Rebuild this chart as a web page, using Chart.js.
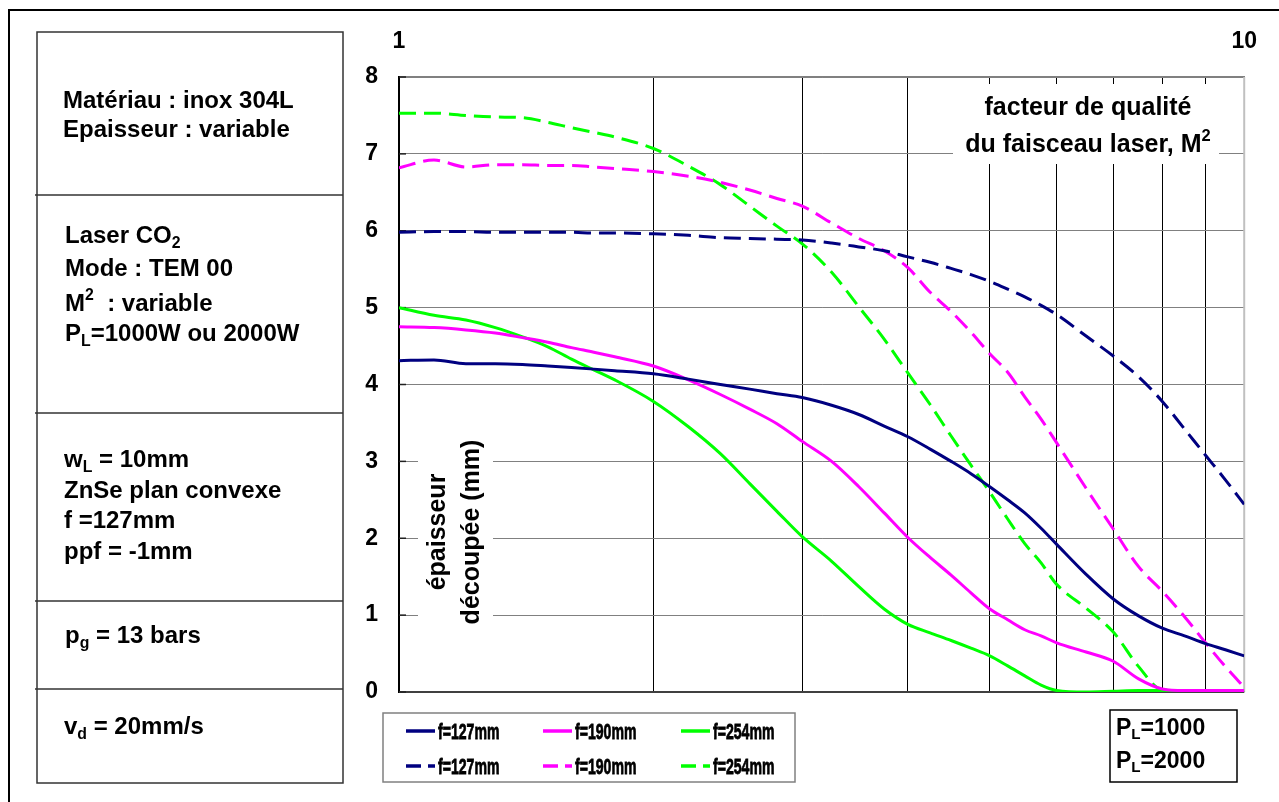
<!DOCTYPE html>
<html>
<head>
<meta charset="utf-8">
<script src="https://cdn.jsdelivr.net/npm/chart.js@4"></script>
<style>
  body { margin: 0; background: #fff; }
  canvas { display: block; }
</style>
</head>
<body>
<canvas id="chart" width="1279" height="802"></canvas>
<script>
// facteur de qualite M2 (axe log)
const m2 = [1, 1.1, 1.2, 1.3, 1.4, 1.5, 1.6, 1.7, 1.8, 2, 2.2, 2.4, 2.6, 2.8, 3, 3.25, 3.5, 3.75, 4, 4.25, 4.5, 4.75, 5, 5.25, 5.5, 5.75, 6, 6.5, 7, 7.5, 8, 8.5, 9, 9.5, 10];
const m2Grid = [1, 2, 3, 4, 5, 6, 7, 8, 9, 10];
const m2Labels = [1, 10];
const epTicks = [0, 1, 2, 3, 4, 5, 6, 7, 8];

// epaisseur decoupee (mm), PL = 1000 W
const f127_1000 = [4.31, 4.32, 4.27, 4.27, 4.26, 4.24, 4.22, 4.20, 4.18, 4.14, 4.07, 4.00, 3.94, 3.88, 3.83, 3.73, 3.61, 3.46, 3.32, 3.16, 3.00, 2.84, 2.67, 2.50, 2.33, 2.13, 1.92, 1.53, 1.21, 0.99, 0.83, 0.73, 0.63, 0.55, 0.47];
const f190_1000 = [4.75, 4.74, 4.71, 4.67, 4.61, 4.55, 4.48, 4.42, 4.36, 4.24, 4.06, 3.87, 3.68, 3.49, 3.26, 3.00, 2.67, 2.33, 2.01, 1.75, 1.52, 1.29, 1.08, 0.94, 0.81, 0.73, 0.64, 0.52, 0.40, 0.17, 0.04, 0.02, 0.02, 0.02, 0.02];
const f254_1000 = [5.00, 4.90, 4.84, 4.74, 4.62, 4.49, 4.33, 4.19, 4.06, 3.78, 3.45, 3.10, 2.71, 2.35, 2.02, 1.70, 1.37, 1.08, 0.88, 0.77, 0.67, 0.57, 0.47, 0.34, 0.21, 0.09, 0.02, 0.00, 0.01, 0.02, 0.02, 0.02, 0.02, 0.02, 0.02];
// PL = 2000 W
const f127_2000 = [5.98, 5.99, 5.99, 5.98, 5.98, 5.98, 5.98, 5.97, 5.97, 5.96, 5.94, 5.91, 5.90, 5.89, 5.88, 5.84, 5.79, 5.74, 5.66, 5.59, 5.51, 5.43, 5.34, 5.24, 5.14, 5.03, 4.91, 4.63, 4.37, 4.10, 3.78, 3.42, 3.08, 2.76, 2.44];
const f190_2000 = [6.82, 6.92, 6.83, 6.86, 6.86, 6.85, 6.85, 6.83, 6.81, 6.77, 6.71, 6.63, 6.53, 6.42, 6.32, 6.10, 5.90, 5.74, 5.52, 5.20, 4.95, 4.68, 4.40, 4.16, 3.84, 3.55, 3.24, 2.65, 2.12, 1.63, 1.31, 0.98, 0.64, 0.33, 0.06];
const f254_2000 = [7.53, 7.53, 7.50, 7.48, 7.47, 7.41, 7.34, 7.28, 7.22, 7.07, 6.84, 6.60, 6.32, 6.06, 5.83, 5.46, 5.01, 4.59, 4.15, 3.74, 3.33, 2.95, 2.60, 2.25, 1.93, 1.68, 1.40, 1.09, 0.78, 0.33, 0.03, 0.02, 0.02, 0.02, 0.02];

const seriesValues = [f127_1000, f190_1000, f254_1000, f127_2000, f190_2000, f254_2000];
const seriesLabels = ["f=127mm", "f=190mm", "f=254mm", "f=127mm", "f=190mm", "f=254mm"];
const powerLabels = ["P_L=1000", "P_L=2000"];

const panelBlocks = [
  ["Matériau : inox 304L", "Epaisseur : variable"],
  ["Laser CO_2", "Mode : TEM 00", "M^2  : variable", "P_L=1000W ou 2000W"],
  ["w_L = 10mm", "ZnSe plan convexe", "f =127mm", "ppf = -1mm"],
  ["p_g = 13 bars"],
  ["v_d = 20mm/s"]
];
const xTitle = ["facteur de qualité", "du faisceau laser, M^2"];
const yTitle = ["épaisseur", "découpée (mm)"];

const FONT = '"Liberation Sans", Arial, sans-serif';
const colors = ["#000080", "#ff00ff", "#00ff00"];

// texte avec indices (_x) et exposants (^x)
function splitRich(str) {
  const out = [];
  let buf = "";
  for (let i = 0; i < str.length; i++) {
    const c = str[i];
    if ((c === "_" || c === "^") && i + 1 < str.length) {
      if (buf) { out.push({ t: buf }); buf = ""; }
      out.push({ t: str[i + 1], s: c === "_" ? "sub" : "sup" });
      i++;
    } else {
      buf += c;
    }
  }
  if (buf) out.push({ t: buf });
  return out;
}

function drawRich(ctx, str, x, y, size, align) {
  const parts = splitRich(str);
  let w = 0;
  parts.forEach(p => {
    ctx.font = "bold " + (p.s ? size * 0.66 : size) + "px " + FONT;
    p.w = ctx.measureText(p.t).width;
    w += p.w;
  });
  let cx = align === "center" ? x - w / 2 : x;
  ctx.textAlign = "left";
  ctx.textBaseline = "alphabetic";
  parts.forEach(p => {
    ctx.font = "bold " + (p.s ? size * 0.66 : size) + "px " + FONT;
    let dy = 0;
    if (p.s === "sub") dy = size * 0.19;
    if (p.s === "sup") dy = -size * 0.45;
    ctx.fillText(p.t, cx, y + dy);
    cx += p.w;
  });
}

const decor = {
  id: "decor",
  beforeDraw(chart) {
    const ctx = chart.ctx;
    ctx.save();
    ctx.fillStyle = "#fff";
    ctx.fillRect(0, 0, chart.width, chart.height);
    ctx.strokeStyle = "#000";
    ctx.lineWidth = 2;
    ctx.strokeRect(9, 10, 1300, 820);
    ctx.restore();
  },
  beforeDatasetsDraw(chart) {
    const ctx = chart.ctx;
    const a = chart.chartArea;
    const ys = chart.scales.y;
    ctx.save();
    // bords du trace et petites graduations internes
    ctx.strokeStyle = "#c0c0c0";
    ctx.lineWidth = 2;
    ctx.beginPath();
    ctx.moveTo(a.right, a.top);
    ctx.lineTo(a.right, a.bottom);
    ctx.stroke();
    ctx.strokeStyle = "#404040";
    ctx.beginPath();
    ctx.moveTo(a.left, a.bottom);
    ctx.lineTo(a.right, a.bottom);
    ctx.stroke();
    ctx.strokeStyle = "#202020";
    ctx.lineWidth = 1.5;
    epTicks.forEach(v => {
      const y = ys.getPixelForValue(v);
      ctx.beginPath();
      ctx.moveTo(a.left, y);
      ctx.lineTo(a.left + 7, y);
      ctx.stroke();
    });
    // titres sur fond blanc
    ctx.fillStyle = "#fff";
    ctx.fillRect(953, 84, 266, 80);
    ctx.fillRect(418, 437, 75, 190);
    ctx.fillStyle = "#000";
    drawRich(ctx, xTitle[0], 1088, 115, 25, "center");
    drawRich(ctx, xTitle[1], 1088, 152, 25, "center");
    ctx.translate(455, 532);
    ctx.rotate(-Math.PI / 2);
    ctx.font = "bold 25px " + FONT;
    ctx.textAlign = "center";
    ctx.textBaseline = "middle";
    ctx.fillText(yTitle[0], 0, -17);
    ctx.fillText(yTitle[1], 0, 17);
    ctx.restore();
  },
  afterDraw(chart) {
    const ctx = chart.ctx;
    ctx.save();
    // cadre de gauche
    ctx.strokeStyle = "#333";
    ctx.lineWidth = 1.5;
    ctx.strokeRect(37, 32, 306, 751);
    [195, 413, 601, 689].forEach(y => {
      ctx.beginPath();
      ctx.moveTo(35, y);
      ctx.lineTo(343, y);
      ctx.stroke();
    });
    ctx.fillStyle = "#000";
    const baselines = [[108, 137], [243, 276, 311, 341], [467, 498, 528, 559], [643], [734]];
    const lefts = [63, 65, 64, 65, 64];
    panelBlocks.forEach((lines, b) => {
      lines.forEach((txt, i) => drawRich(ctx, txt, lefts[b], baselines[b][i], 24));
    });

    // legende
    ctx.strokeStyle = "#808080";
    ctx.lineWidth = 1.5;
    ctx.strokeRect(383, 713, 412, 69);
    const colX = [406, 543, 681];
    const rowY = [731, 766];
    chart.data.datasets.forEach((ds, i) => {
      const x = colX[i % 3];
      const y = rowY[Math.floor(i / 3)];
      ctx.strokeStyle = ds.borderColor;
      ctx.lineWidth = 3.5;
      ctx.setLineDash(i >= 3 ? [15, 7] : []);
      ctx.beginPath();
      ctx.moveTo(x, y);
      ctx.lineTo(x + 29, y);
      ctx.stroke();
      ctx.setLineDash([]);
      ctx.save();
      ctx.translate(x + 32, y + 8);
      ctx.scale(0.64, 1);
      ctx.fillStyle = "#000";
      ctx.strokeStyle = "#000";
      ctx.lineWidth = 0.8;
      ctx.font = "bold 22px " + FONT;
      ctx.textAlign = "left";
      ctx.textBaseline = "alphabetic";
      ctx.fillText(ds.label, 0, 0);
      ctx.strokeText(ds.label, 0, 0);
      ctx.restore();
    });

    // boite PL
    ctx.strokeStyle = "#000";
    ctx.lineWidth = 1.5;
    ctx.strokeRect(1110, 710, 127, 72);
    ctx.fillStyle = "#000";
    drawRich(ctx, powerLabels[0], 1116, 735, 23);
    drawRich(ctx, powerLabels[1], 1116, 768, 23);
    ctx.restore();
  }
};

const datasets = seriesValues.map((vals, i) => ({
  label: seriesLabels[i],
  data: m2.map((x, j) => ({ x: x, y: vals[j] })),
  borderColor: colors[i % 3],
  borderWidth: 3,
  borderDash: i >= 3 ? [17, 8] : [],
  pointRadius: 0,
  fill: false,
  cubicInterpolationMode: "monotone"
}));

new Chart(document.getElementById("chart"), {
  type: "line",
  data: { datasets: datasets },
  options: {
    responsive: false,
    animation: false,
    devicePixelRatio: 1,
    layout: { padding: { left: 340, right: 32, top: 0, bottom: 110 } },
    plugins: { legend: { display: false }, tooltip: { enabled: false } },
    scales: {
      x: {
        type: "logarithmic",
        position: "top",
        min: 1,
        max: 10,
        afterBuildTicks: s => { s.ticks = m2Grid.map(v => ({ value: v })); },
        afterFit: s => { s.height = 77; },
        ticks: {
          autoSkip: false,
          maxRotation: 0,
          padding: 22,
          color: "#000",
          font: { family: FONT, size: 23, weight: "bold" },
          callback: v => (m2Labels.includes(v) ? String(v) : "")
        },
        grid: { color: "#000", lineWidth: 1, drawTicks: false },
        border: { color: "#808080", width: 1.5 }
      },
      y: {
        min: 0,
        max: 8,
        afterBuildTicks: s => { s.ticks = epTicks.map(v => ({ value: v })); },
        afterFit: s => { s.width = 59; },
        ticks: {
          padding: 21,
          color: "#000",
          font: { family: FONT, size: 23, weight: "bold" }
        },
        grid: { color: "#808080", lineWidth: 1, drawTicks: false },
        border: { color: "#000", width: 2 }
      }
    }
  },
  plugins: [decor]
});
</script>
</body>
</html>
